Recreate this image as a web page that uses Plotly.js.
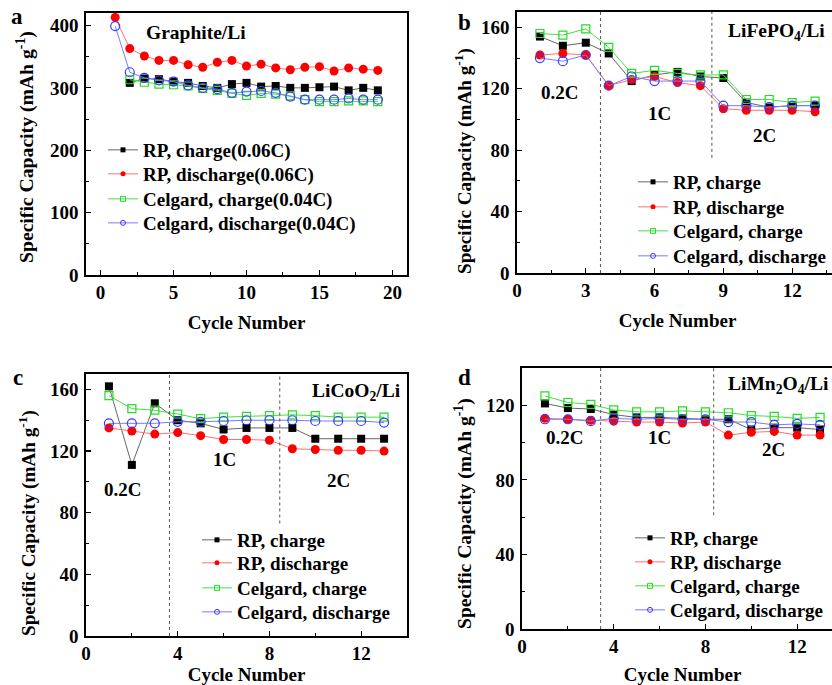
<!DOCTYPE html>
<html>
<head>
<meta charset="utf-8">
<script src="https://cdn.plot.ly/plotly-3.0.1.min.js"></script>
<style>
html,body{margin:0;padding:0;overflow:hidden;background:#fff;}
#chart{width:860px;height:685px;}
</style>
</head>
<body>
<div id="chart"></div>
<script>
// ---------- data ----------
const seriesNames = ["RP, charge", "RP, discharge", "Celgard, charge", "Celgard, discharge"];
const seriesNamesA = ["RP, charge(0.06C)", "RP, discharge(0.06C)", "Celgard, charge(0.04C)", "Celgard, discharge(0.04C)"];

const cyclesA = [1,2,3,4,5,6,7,8,9,10,11,12,13,14,15,16,17,18,19];
const aRPcharge    = [null,308,315,314,310,308,303,300,306,308,302,303,300,300,301,302,296,300,296];
const aRPdischarge = [413,363,351,344,344,337,333,341,344,335,338,332,329,333,334,327,332,330,328];
const aCgCharge    = [null,313,309,306,305,303,299,296,291,288,291,290,287,281,278,278,279,279,278];
const aCgDischarge = [399,325,316,312,310,304,300,298,292,294,295,292,286,281,281,281,283,281,281];

const cyclesB = [1,2,3,4,5,6,7,8,9,10,11,12,13];
const bRPcharge    = [154,148,150,143,125,129,131,128,127,111,108,109,109];
const bRPdischarge = [142,143,142,122,126,128,124,122,107,106,106,106,105];
const bCgCharge    = [156,155,159,147,130,132,130,129,129,113,113,111,112];
const bCgDischarge = [140,138,142,122,128,125,125,125,109,109,108,109,109];

const cyclesC = [1,2,3,4,5,6,7,8,9,10,11,12,13];
const cRPcharge    = [162,111,151,140,138,134,135,135,135,128,128,128,128];
const cRPdischarge = [135,133,131,132,130,127.5,127.5,127,121.5,121,120.5,120.5,120];
const cCgCharge    = [156,147.5,146.5,144,141,142,142.5,143,143.5,143,142,142,142];
const cCgDischarge = [138,138,138,139,139,139.5,140,140,140,139.5,139.5,139.5,138.5];

const cyclesD = [1,2,3,4,5,6,7,8,9,10,11,12,13];
const dRPcharge    = [121,118.5,118,115,113.5,113.5,113,112.5,112.5,107,108,108,107];
const dRPdischarge = [113,112.5,112,111.5,111,111,110.5,111,104,105.5,106,104,104];
const dCgCharge    = [125,121.5,120.5,117.5,116.5,116.5,117,116.5,116,114.5,114,113,113.5];
const dCgDischarge = [112.5,112.5,111.5,113,112.5,113,112.5,112.5,111,111,109.5,110,109.5];

const rateLabels = ["0.2C", "1C", "2C"];
const panelLetters = ["a", "b", "c", "d"];
const cellNames = ["Graphite/Li", "LiFePO<sub>4</sub>/Li", "LiCoO<sub>2</sub>/Li", "LiMn<sub>2</sub>O<sub>4</sub>/Li"];
const xTitle = "Cycle Number";
const yTitle = "Specific Capacity (mAh g<sup>-1</sup>)";
const boundariesB = [3.64, 8.5];
const boundariesC = [3.64, 8.45];
const boundariesD = [3.43, 8.36];

// ---------- styling ----------
const W = 860, H = 685;
const FONT = "'Liberation Serif', 'Times New Roman', Times, serif";
const styles = [
  {line:"#666666", marker:{symbol:"square", color:"#000000", size:8, line:{width:0}}},
  {line:"#ff7070", marker:{symbol:"circle", color:"#ff0000", size:9, line:{width:0}}},
  {line:"#44e044", marker:{symbol:"square-open", color:"#22dd22", size:8, line:{width:1.2}}},
  {line:"#7a7aff", marker:{symbol:"circle-open", color:"#3a3aff", size:9, line:{width:1.2}}}
];

function px2x(p){ return p / W; }
function px2y(p){ return 1 - p / H; }
function legendKey(n){ return n === 1 ? "legend" : "legend" + n; }

const traces = [];
function addPanel(idx, xs, ys, names){
  const sfx = idx === 0 ? "" : String(idx + 1);
  for (let i = 0; i < 4; i++){
    const st = styles[i];
    traces.push({
      x: xs, y: ys[i], type: "scatter", mode: "lines+markers",
      xaxis: "x" + sfx, yaxis: "y" + sfx, showlegend: false, connectgaps: false,
      line: {color: st.line, width: 1},
      marker: st.marker, hoverinfo: "skip"
    });
  }
  for (let i = 0; i < 4; i++){
    const st = styles[i];
    traces.push({
      x: [null], y: [null], type: "scatter", mode: "lines+markers",
      xaxis: "x" + sfx, yaxis: "y" + sfx, name: names[i], legend: legendKey(idx * 4 + i + 1),
      line: {color: st.line, width: 1},
      marker: Object.assign({}, st.marker, {size: 5, line:{width: st.marker.line.width ? 1 : 0}})
    });
  }
}
addPanel(0, cyclesA, [aRPcharge, aRPdischarge, aCgCharge, aCgDischarge], seriesNamesA);
addPanel(1, cyclesB, [bRPcharge, bRPdischarge, bCgCharge, bCgDischarge], seriesNames);
addPanel(2, cyclesC, [cRPcharge, cRPdischarge, cCgCharge, cCgDischarge], seriesNames);
addPanel(3, cyclesD, [dRPcharge, dRPdischarge, dCgCharge, dCgDischarge], seriesNames);

// panel boxes in pixels [left, right, top, bottom]
const boxes = [
  [86, 407, 13, 275],
  [517, 838, 12, 273],
  [86, 407, 374, 636],
  [522, 843, 368, 629]
];
const xRanges = [[-1, 21], [0, 14], [0, 14], [0, 14]];
const yRanges = [[0, 420], [0, 170], [0, 170], [0, 140]];
const xDticks = [5, 3, 4, 4];
const yDticks = [100, 40, 40, 40];
const xTitleStandoff = [13, 13, 4, 12];
// y-title centres (px) and sizes
const yTitlePos = [[26, 147], [463, 161], [27, 523], [463, 514]];
const yTitleSize = [19.7, 19.2, 19.2, 19.6];

const tickFont = {family: FONT, size: 19, color: "#000", weight: "bold"};
const xTitleFont = {family: FONT, size: 19, color: "#000", weight: "bold"};

const layout = {
  width: W, height: H, margin: {l:0, r:0, t:0, b:0},
  paper_bgcolor: "#fff", plot_bgcolor: "#fff",
  font: {family: FONT, color: "#000"},
  shapes: [], annotations: []
};

for (let i = 0; i < 4; i++){
  const sfx = i === 0 ? "" : String(i + 1);
  const b = boxes[i];
  layout["xaxis" + sfx] = {
    domain: [px2x(b[0]), px2x(b[1])], range: xRanges[i], anchor: "y" + sfx,
    showline: true, linecolor: "#000", linewidth: 1.6, mirror: true,
    showgrid: false, zeroline: false,
    ticks: "inside", ticklen: 5, tickwidth: 1.2, tickcolor: "#000",
    dtick: xDticks[i], tick0: 0,
    minor: {dtick: xDticks[i] / 2, tick0: 0, ticks: "inside", ticklen: 3, tickwidth: 1, tickcolor: "#000", showgrid: false},
    tickfont: tickFont, ticklabelstandoff: 0,
    title: {text: xTitle, font: xTitleFont, standoff: xTitleStandoff[i]}
  };
  layout["yaxis" + sfx] = {
    domain: [px2y(b[3]), px2y(b[2])], range: yRanges[i], anchor: "x" + sfx,
    showline: true, linecolor: "#000", linewidth: 1.6, mirror: true,
    showgrid: false, zeroline: false,
    ticks: "inside", ticklen: 5, tickwidth: 1.2, tickcolor: "#000",
    dtick: yDticks[i], tick0: 0,
    minor: {dtick: yDticks[i] / 2, tick0: 0, ticks: "inside", ticklen: 3, tickwidth: 1, tickcolor: "#000", showgrid: false},
    tickfont: tickFont, ticklabelstandoff: 2
  };
}

// rate boundaries (dashed)
function addBoundaries(sfx, bounds, yTop, secondBottom){
  bounds.forEach((bx, j) => {
    layout.shapes.push({type: "line", xref: "x" + sfx, yref: "y" + sfx,
      x0: bx, x1: bx, y0: j === 0 ? 0 : secondBottom, y1: yTop,
      line: {color: "#555", width: 1, dash: "dot"}});
  });
}
addBoundaries("2", boundariesB, 170, 75);
addBoundaries("3", boundariesC, 170, 73);
addBoundaries("4", boundariesD, 140, 61);

// text annotations (paper pixel positions)
function ann(text, xp, yp, size, xanchor, angle){
  layout.annotations.push({text: text, xref: "paper", yref: "paper",
    x: px2x(xp), y: px2y(yp), xanchor: xanchor || "center", yanchor: "middle",
    textangle: angle || 0,
    showarrow: false, font: {family: FONT, size: size || 19, color: "#000", weight: "bold"}});
}
ann(panelLetters[0], 17, 17, 23);
ann(panelLetters[1], 465, 22, 23);
ann(panelLetters[2], 18, 377, 23);
ann(panelLetters[3], 464, 377, 23);

for (let i = 0; i < 4; i++) ann(yTitle, yTitlePos[i][0], yTitlePos[i][1], yTitleSize[i], "center", -90);

ann(cellNames[0], 196, 33, 19.5);
ann(cellNames[1], 726, 32, 19.5, "left");
ann(cellNames[2], 310, 392, 19.5, "left");
ann(cellNames[3], 726, 385, 19.5, "left");

ann(rateLabels[0], 559, 93); ann(rateLabels[1], 659, 113); ann(rateLabels[2], 764, 135);
ann(rateLabels[0], 123, 489); ann(rateLabels[1], 224, 459); ann(rateLabels[2], 338, 480);
ann(rateLabels[0], 564, 437); ann(rateLabels[1], 659, 437); ann(rateLabels[2], 773, 449);

// legends: one per entry, [text start x, row centres y]
const legendTextX = [143, 673, 237, 670];
const legendRowsY = [[150, 174, 199, 223], [182, 207, 231, 256], [540, 563, 588, 612], [538, 562, 586, 610]];
for (let p = 0; p < 4; p++){
  for (let r = 0; r < 4; r++){
    layout[legendKey(p * 4 + r + 1)] = {
      x: px2x(legendTextX[p] - 40), y: px2y(legendRowsY[p][r]), xanchor: "left", yanchor: "middle",
      bgcolor: "rgba(0,0,0,0)", borderwidth: 0, itemwidth: 30,
      font: {family: FONT, size: 19, color: "#000", weight: "bold"}};
  }
}

Plotly.newPlot("chart", traces, layout, {displayModeBar: false, staticPlot: true});
</script>
</body>
</html>
